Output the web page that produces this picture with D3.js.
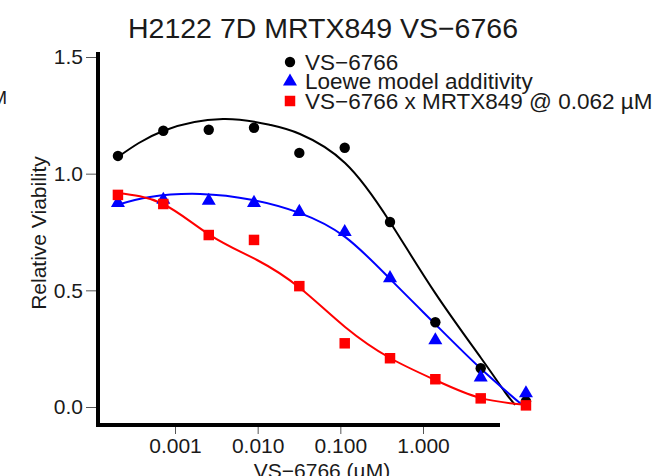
<!DOCTYPE html>
<html>
<head>
<meta charset="utf-8">
<script src="https://cdn.jsdelivr.net/npm/d3@7"></script>
<style>
  body { margin: 0; background: #fff; }
  svg { display: block; font-family: "Liberation Sans", Arial, sans-serif; }
</style>
</head>
<body>
<div id="chart"><svg></svg></div>
<script>
// doses (uM) of VS-6766, 10-point dilution
const doses = [0.000204, 0.000722, 0.00256, 0.00903, 0.0319, 0.113, 0.399, 1.41, 4.99, 17.6];

// measured relative viability
const vs6766 = [1.076, 1.184, 1.188, 1.197, 1.089, 1.111, 0.793, 0.363, 0.166, 0.025];
const loewe = [0.875, 0.888, 0.884, 0.875, 0.836, 0.750, 0.552, 0.286, 0.127, 0.059];
const combo = [0.909, 0.870, 0.737, 0.716, 0.518, 0.273, 0.209, 0.119, 0.037, 0.007];

// fitted curves, sampled off the figure
const fitBlackDose = [0.000205, 0.000716, 0.00381, 0.0141, 0.0325, 0.114, 0.399, 1.40, 5.03, 9.81, 13.0];
const fitBlackVal = [1.072, 1.183, 1.234, 1.209, 1.170, 1.046, 0.793, 0.489, 0.210, 0.064, 0.009];
const fitBlueDose = [0.000199, 0.000498, 0.00201, 0.00878, 0.0325, 0.114, 0.399, 1.40, 4.91, 15.8];
const fitBlueVal = [0.866, 0.900, 0.913, 0.887, 0.831, 0.729, 0.549, 0.356, 0.167, 0.009];
const fitRedDose = [0.000199, 0.000716, 0.00265, 0.00981, 0.0325, 0.114, 0.399, 1.40, 4.91, 18.1];
const fitRedVal = [0.917, 0.870, 0.737, 0.630, 0.510, 0.343, 0.210, 0.116, 0.039, 0.009];

const xTicks = [0.001, 0.01, 0.1, 1];
const xTickLabels = ["0.001", "0.010", "0.100", "1.000"];
const yTicks = [0, 0.5, 1.0, 1.5];

const legendLabels = ["VS\u22126766", "Loewe model additivity", "VS\u22126766 x MRTX849 @ 0.062 \u00b5M"];

const width = 667, height = 476;
const svg = d3.select("#chart svg").attr("width", width).attr("height", height);

const x = d3.scaleLog().domain([0.001, 1]).range([175, 423]);
const y = d3.scaleLinear().domain([0, 1.5]).range([407, 57]);

const textCol = "#1a1a1a";
const fontFam = "Liberation Sans, Arial, sans-serif";

// title
svg.append("text")
    .attr("x", 323).attr("y", 38)
    .attr("text-anchor", "middle")
    .attr("font-size", 28.5)
    .attr("fill", textCol)
    .text("H2122 7D MRTX849 VS\u22126766");

// cropped leftover from neighbouring panel
svg.append("text")
    .attr("x", 7).attr("y", 104)
    .attr("text-anchor", "end")
    .attr("font-size", 19)
    .attr("fill", textCol)
    .text("\u00b5M");

// y axis
const yAxis = svg.append("g")
    .attr("transform", "translate(97,0)")
    .call(d3.axisLeft(y).tickValues(yTicks).tickFormat(d3.format(".1f")).tickSize(11).tickPadding(3));
yAxis.select(".domain").remove();
yAxis.selectAll(".tick line").attr("stroke", "#555");
yAxis.selectAll(".tick text").attr("font-size", 21).attr("fill", textCol).attr("font-family", fontFam);

// x axis
const xAxis = svg.append("g")
    .attr("transform", "translate(0,425)")
    .call(d3.axisBottom(x).tickValues(xTicks).tickFormat((d, i) => xTickLabels[i]).tickSize(9).tickPadding(4));
xAxis.select(".domain").remove();
xAxis.selectAll(".tick line").attr("stroke", "#555");
xAxis.selectAll(".tick text").attr("font-size", 21).attr("fill", textCol).attr("font-family", fontFam);

// thick axis lines
svg.append("line").attr("x1", 98).attr("x2", 98).attr("y1", 52).attr("y2", 427)
    .attr("stroke", "#000").attr("stroke-width", 4);
svg.append("line").attr("x1", 96).attr("x2", 500).attr("y1", 425).attr("y2", 425)
    .attr("stroke", "#000").attr("stroke-width", 4);

// axis titles
svg.append("text")
    .attr("x", 322).attr("y", 478)
    .attr("text-anchor", "middle")
    .attr("font-size", 21)
    .attr("fill", textCol)
    .text("VS\u22126766 (\u00b5M)");

svg.append("text")
    .attr("transform", "translate(46,233) rotate(-90)")
    .attr("text-anchor", "middle")
    .attr("font-size", 21)
    .attr("fill", textCol)
    .text("Relative Viability");

// fitted curves
const line = d3.line()
    .x(d => x(d[0]))
    .y(d => y(d[1]))
    .curve(d3.curveNatural);

const curves = [
    { dose: fitBlackDose, val: fitBlackVal, color: "#000000" },
    { dose: fitBlueDose, val: fitBlueVal, color: "#0000ff" },
    { dose: fitRedDose, val: fitRedVal, color: "#ff0000" }
];

svg.selectAll(".fit")
    .data(curves)
    .enter().append("path")
    .attr("class", "fit")
    .attr("d", c => line(d3.zip(c.dose, c.val)))
    .attr("fill", "none")
    .attr("stroke", c => c.color)
    .attr("stroke-width", 2);

// points
const series = [
    { vals: vs6766, color: "#000000", symbol: d3.symbolCircle, size: 85 },
    { vals: loewe, color: "#0000ff", symbol: d3.symbolTriangle, size: 85 },
    { vals: combo, color: "#ff0000", symbol: d3.symbolSquare, size: 110 }
];

const sym = d3.symbol();

series.forEach(s => {
    svg.append("g")
        .selectAll("path")
        .data(s.vals)
        .enter().append("path")
        .attr("transform", (d, i) => `translate(${x(doses[i])},${y(d)})`)
        .attr("d", sym.type(s.symbol).size(s.size)())
        .attr("fill", s.color);
});

// legend
const legend = svg.append("g").attr("transform", "translate(290,62)");
legendLabels.forEach((lab, i) => {
    const g = legend.append("g").attr("transform", `translate(0,${i * 19.5})`);
    g.append("path")
        .attr("d", sym.type(series[i].symbol).size(series[i].size)())
        .attr("fill", series[i].color);
    g.append("text")
        .attr("x", 15).attr("y", 7.5)
        .attr("font-size", 22.5)
        .attr("fill", textCol)
        .text(lab);
});
</script>
</body>
</html>
